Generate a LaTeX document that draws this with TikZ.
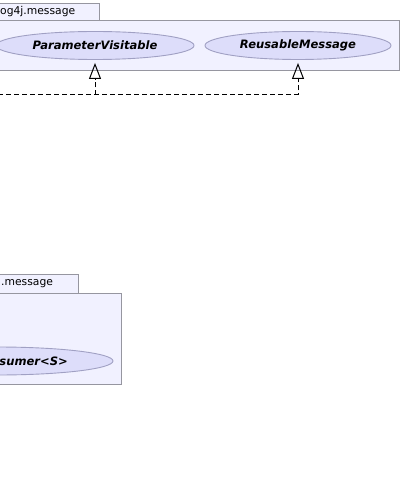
\documentclass[tikz,border=0pt]{standalone}
\usepackage{fontspec}
\setmainfont{DejaVu Sans}
\usetikzlibrary{shapes.geometric, arrows.meta, positioning}
\definecolor{cPkgFill}{RGB}{241,241,255}
\definecolor{cPkgLine}{RGB}{150,150,160}
\definecolor{cIfcFill}{RGB}{221,221,250}
\definecolor{cIfcLine}{RGB}{160,160,195}
\tikzset{
	pkg/.style      ={draw=cPkgLine, fill=cPkgFill, line width=0.9bp},
	pkglabel/.style ={anchor=west, inner sep=0pt, font=\fontsize{10.8}{13}\selectfont},
	ifc/.style      ={ellipse, draw=cIfcLine, fill=cIfcFill, line width=0.9bp, minimum height=28bp, inner sep=0pt, font=\fontsize{11.6}{14}\selectfont\bfseries\itshape},
	ifclabel/.style ={anchor=east, inner sep=0pt, font=\fontsize{11.6}{14}\selectfont\bfseries\itshape},
	realize/.style  ={-{Triangle[open, length=16bp, width=12bp]}, line width=1bp, dash pattern=on 5bp off 3bp},
}
\begin{document}
\begin{tikzpicture}[x=1bp, y=-1bp]
	\useasboundingbox (0,0) rectangle (402,479);
	% upper package
	\draw[pkg] (-20,3) rectangle (99.5,20);
	\draw[pkg] (-20,20) rectangle (399.5,70);
	\node[pkglabel] (msgtab) at (0,12) {og4j.message};
	\node[ifc, minimum width=198bp] (pv) at (95,45.5) {ParameterVisitable};
	\node[ifc, minimum width=186bp] (rm) at (298,45.5) {ReusableMessage};
	% lower package
	\draw[pkg] (-20,274) rectangle (78,293);
	\draw[pkg] (-20,293) rectangle (121.5,384.5);
	\node[pkglabel] (subtab) at (1,284) {.message};
	\node[ifc, minimum width=232bp] (pc) at (-3,361) {};
	\node[ifclabel] (pclabel) at (68,361.5) {sumer<S>};
	% realizations
	\coordinate (src) at (-10,94.5);
	\draw[realize] (src) -| ([yshift=-3bp]pv.south);
	\draw[realize] (src) -| ([yshift=-3bp]rm.south);
\end{tikzpicture}
\end{document}
